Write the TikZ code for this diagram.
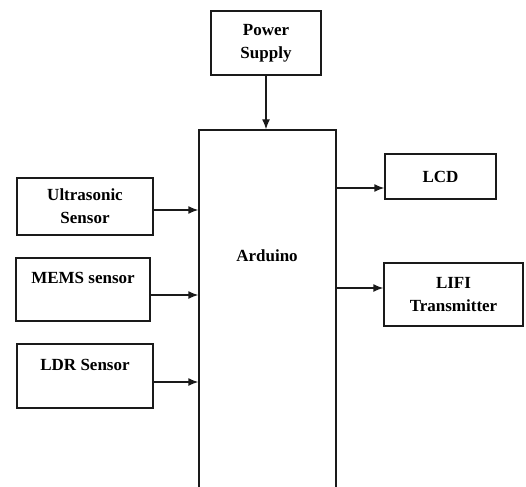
\documentclass[tikz,border=0pt]{standalone}
\usepackage{fontspec}
\setmainfont{Liberation Serif}
\usepackage{tikz}
\usetikzlibrary{arrows.meta,positioning}
\definecolor{Ink}{HTML}{1A1A1A}

\begin{document}
\begin{tikzpicture}[x=1pt,y=-1pt,
    blk/.style={draw=Ink,line width=1.4pt,inner sep=0pt,align=center,
      font=\fontsize{17}{23}\selectfont\bfseries},
    arr/.style={draw=Ink,line width=1.4pt,-{Latex[length=10pt,width=8pt]}}]
  \useasboundingbox (0,0) rectangle (526,486);
  \node[blk,minimum width=110,minimum height=64] (ps) at (266,43) {Power\\Supply};
  \node[blk,minimum width=137,minimum height=360] (ard) at (267.5,310) {};
  \node[font=\fontsize{17}{23}\selectfont\bfseries] (ardlbl) at (267,256) {Arduino};
  \node[blk,minimum width=136,minimum height=57] (us) at (85,206.5) {Ultrasonic\\Sensor};
  \node[blk,minimum width=134,minimum height=63] (mems) at (83,289.5) {MEMS sensor\\~};
  \node[blk,minimum width=136,minimum height=64] (ldr) at (85,376) {LDR Sensor\\~};
  \node[blk,minimum width=111,minimum height=45] (lcd) at (440.5,176.5) {LCD};
  \node[blk,minimum width=139,minimum height=63] (lifi) at (453.5,294.5) {LIFI\\Transmitter};
  \draw[arr] (ps.south) -- (ps.south |- ard.north);
  \foreach \n/\dy in {us/3.5,mems/5.5,ldr/6}
    \draw[arr] ([yshift=-\dy pt]\n.east) -- ([yshift=-\dy pt]\n.east -| ard.west);
  \draw[arr] ([yshift=-11.5pt]lcd.west -| ard.east) -- ([yshift=-11.5pt]lcd.west);
  \draw[arr] ([yshift=6.5pt]lifi.west -| ard.east) -- ([yshift=6.5pt]lifi.west);
\end{tikzpicture}
\end{document}
